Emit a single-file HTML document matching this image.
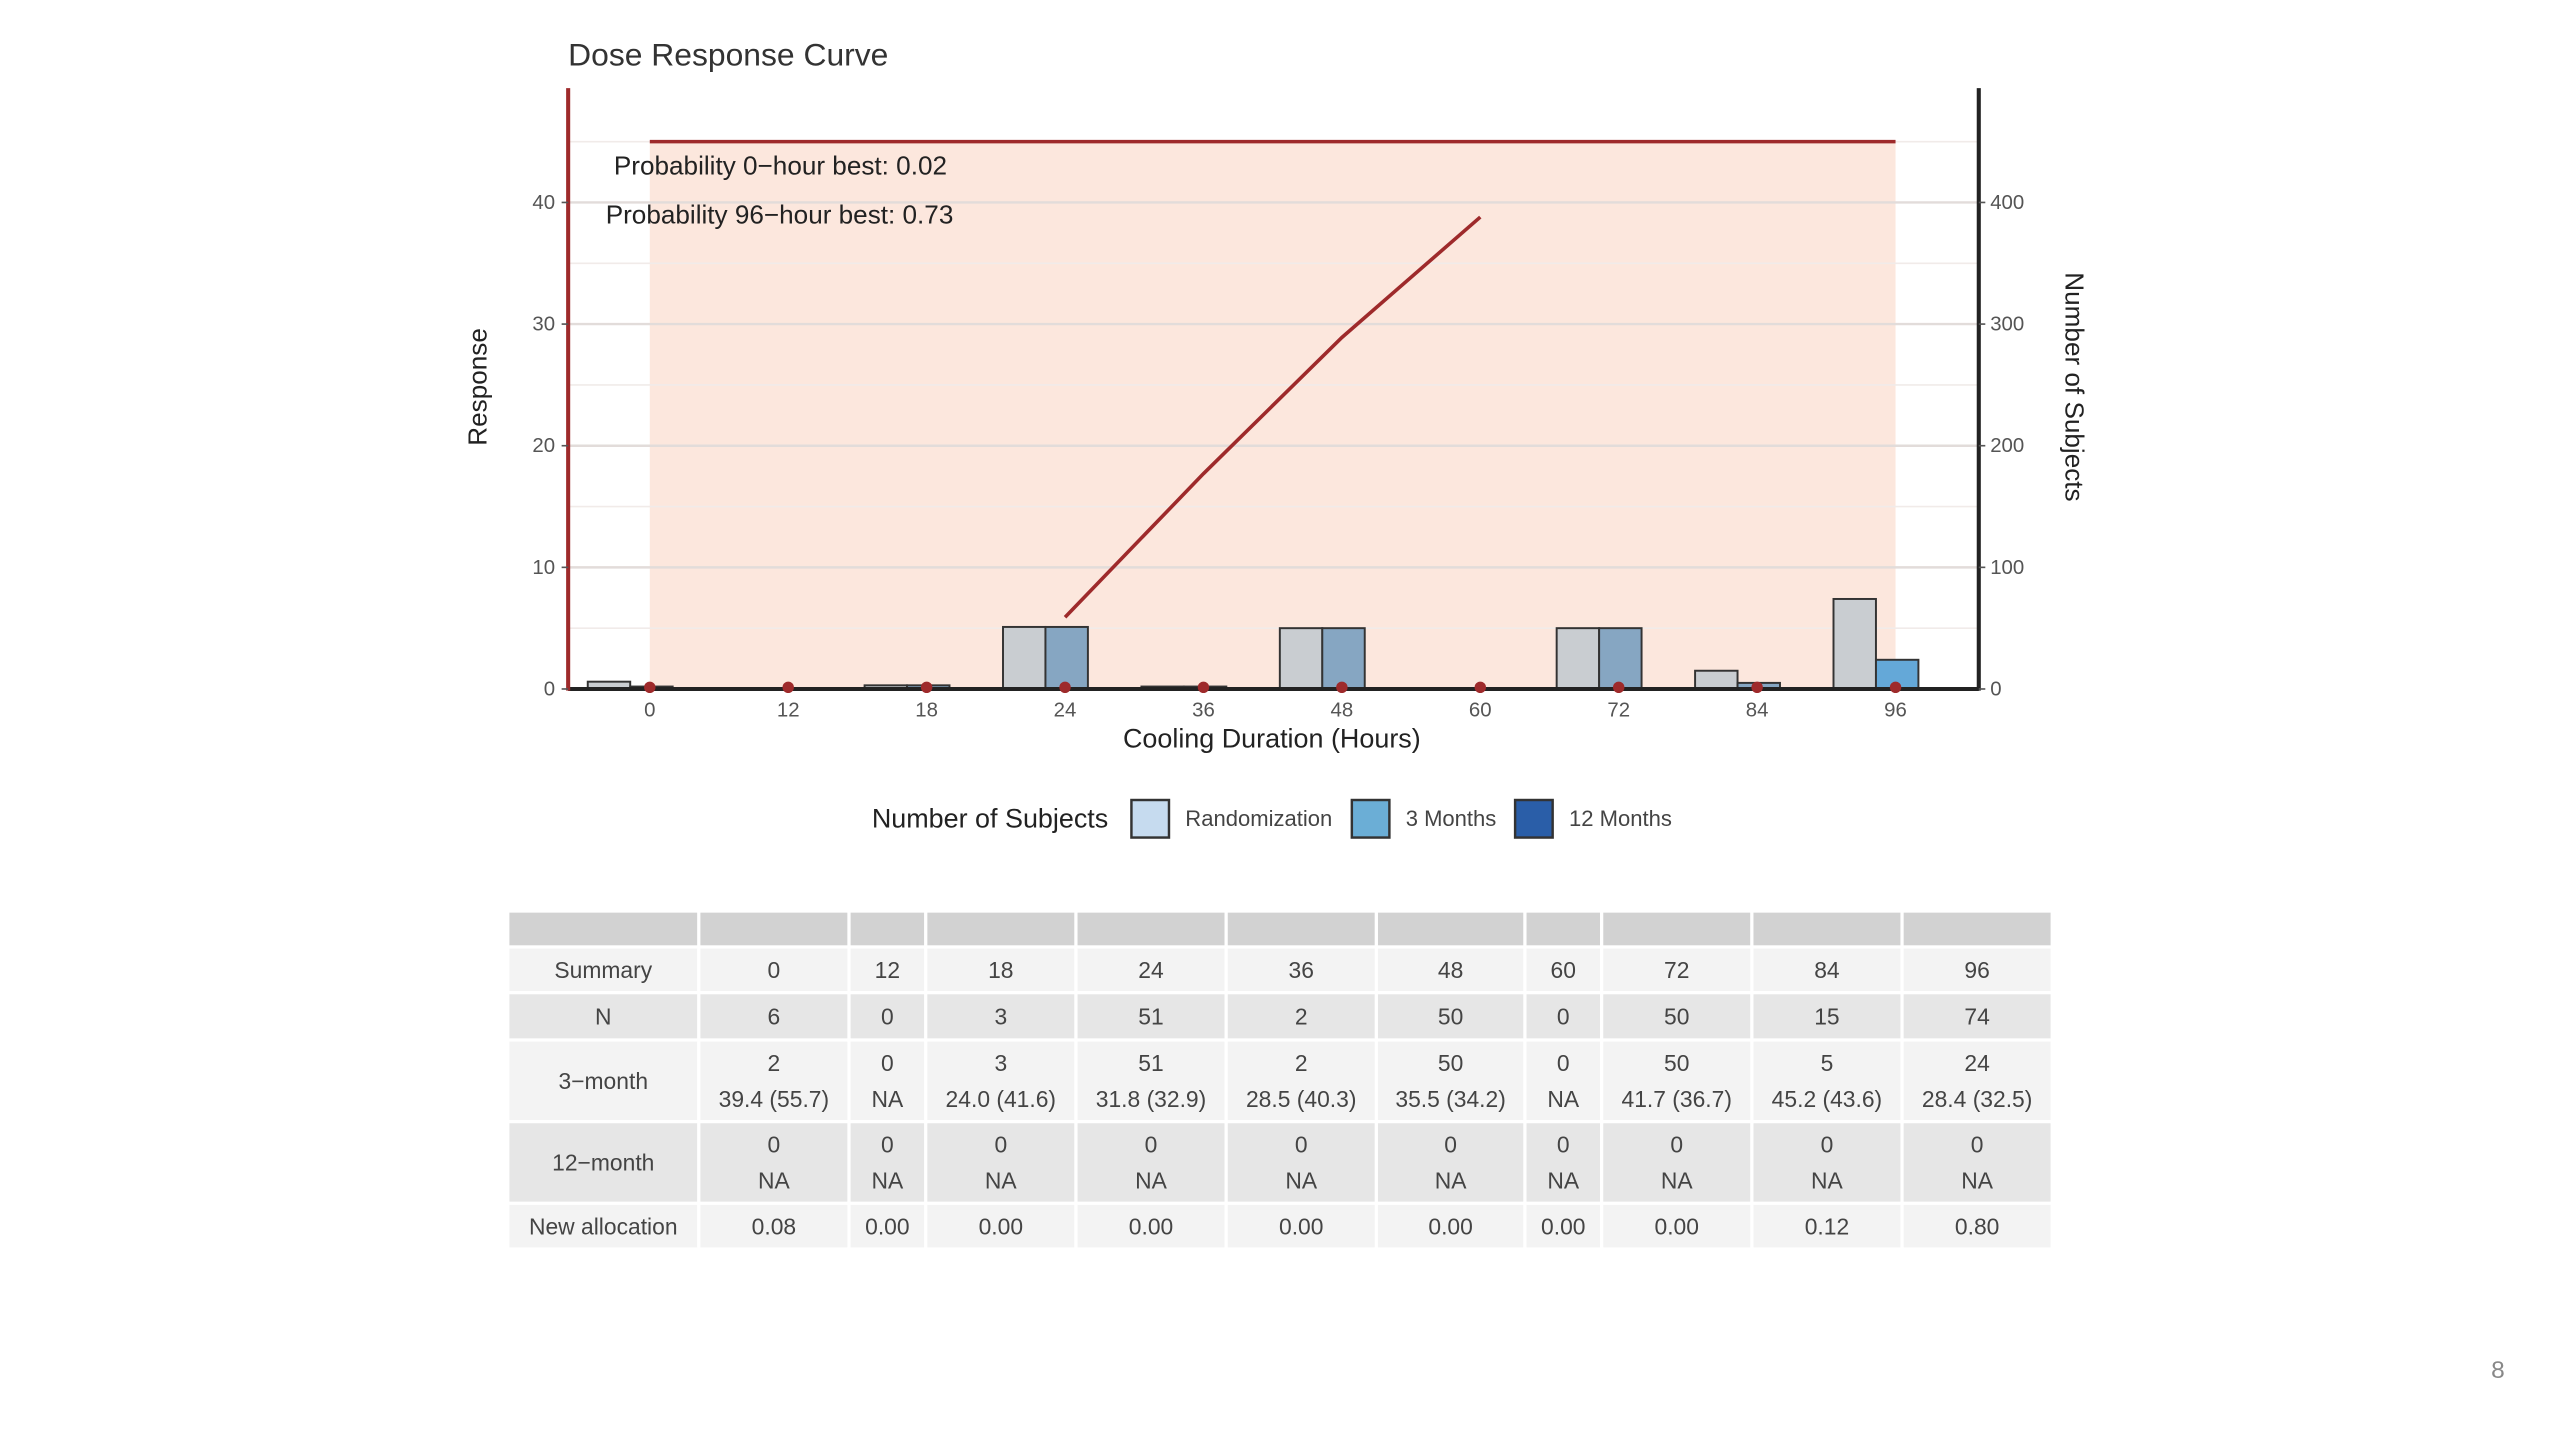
<!DOCTYPE html>
<html><head><meta charset="utf-8">
<style>
html,body{margin:0;padding:0;background:#fff;}
svg{display:block;font-family:"Liberation Sans",Arial,sans-serif;}
</style></head>
<body>
<svg id="root" width="2560" height="1440" viewBox="0 0 1568 882" xmlns="http://www.w3.org/2000/svg">
<g id="chart"></g>
<g id="table"></g>
<text x="1530" y="844" font-size="15" fill="#888" text-anchor="middle">8</text>
</svg>
<script>
const categories = ["0","12","18","24","36","48","60","72","84","96"];
const randomization = [6,0,3,51,2,50,0,50,15,74];
const threeMonth = [2,0,3,51,2,50,0,50,5,24];
const curveCats = ["24","36","48","60"];
const curveValues = [5.9,17.7,28.9,38.8];
const bandTop = 45;
const leftTicks = [0,10,20,30,40];
const rightTicks = [0,100,200,300,400];
const tableRows = [
 ["Summary","0","12","18","24","36","48","60","72","84","96"],
 ["N","6","0","3","51","2","50","0","50","15","74"],
 ["3\u2212month","2|39.4 (55.7)","0|NA","3|24.0 (41.6)","51|31.8 (32.9)","2|28.5 (40.3)","50|35.5 (34.2)","0|NA","50|41.7 (36.7)","5|45.2 (43.6)","24|28.4 (32.5)"],
 ["12\u2212month","0|NA","0|NA","0|NA","0|NA","0|NA","0|NA","0|NA","0|NA","0|NA","0|NA"],
 ["New allocation","0.08","0.00","0.00","0.00","0.00","0.00","0.00","0.00","0.12","0.80"]
];
const NS="http://www.w3.org/2000/svg";
function mk(parent,tag,attrs,text){const e=document.createElementNS(NS,tag);for(const k in attrs)e.setAttribute(k,attrs[k]);if(text!==undefined)e.textContent=text;parent.appendChild(e);return e;}
const chart=document.getElementById('chart');
const X0=398,STEP=84.78,Y0=422;
const xPos=c=>X0+categories.indexOf(c)*STEP;
const yL=v=>Y0-v*7.45;
const yR=v=>Y0-v*0.745;
let t=mk(chart,'text',{x:348,y:40,'font-size':19.5,fill:'#333'},'Dose Response Curve');


let band=mk(chart,'rect',{x:xPos("0"),y:yL(bandTop),width:xPos("96")-xPos("0"),height:Y0-yL(bandTop),fill:'#fce7dd'});


for(let v=5;v<=45;v+=5){const g=mk(chart,'line',{x1:349,x2:1211,y1:yL(v),y2:yL(v),stroke:v%10===0?'#e2dcda':'#f1ebe9','stroke-width':v%10===0?1.5:1});

}
let bl=mk(chart,'line',{x1:xPos("0"),x2:xPos("96"),y1:yL(bandTop),y2:yL(bandTop),stroke:'#9e2a2b','stroke-width':2.2});


const BW=26,OFF=12;
categories.forEach((c,i)=>{
 const cx=xPos(c)-OFF;
 const r=mk(chart,'rect',{x:cx-BW,y:yR(randomization[i]),width:BW,height:Math.max(Y0-yR(randomization[i]),0.5),fill:'#c9cdd1',stroke:'#333','stroke-width':1.2});
 
 
 const b=mk(chart,'rect',{x:cx,y:yR(threeMonth[i]),width:BW,height:Math.max(Y0-yR(threeMonth[i]),0.5),fill:c==="96"?'#64a8d8':'#86a6c2',stroke:'#333','stroke-width':1.2});
 
 
});
let base=mk(chart,'line',{x1:348,x2:1212,y1:Y0,y2:Y0,stroke:'#222','stroke-width':2.5});


let la=mk(chart,'line',{x1:348,x2:348,y1:54,y2:423,stroke:'#9e2a2b','stroke-width':2.5});


let ra=mk(chart,'line',{x1:1212,x2:1212,y1:54,y2:423,stroke:'#222','stroke-width':2.5});


categories.forEach(c=>{const p=mk(chart,'circle',{cx:xPos(c),cy:Y0-1,r:3.5,fill:'#9e2a2b'});

});
const pts=curveCats.map((c,i)=>xPos(c)+','+yL(curveValues[i])).join(' ');
let cl=mk(chart,'polyline',{points:pts,fill:'none',stroke:'#9e2a2b','stroke-width':2.2});


leftTicks.forEach(v=>{const tt=mk(chart,'text',{x:340,y:yL(v)+4,'font-size':12.5,fill:'#555','text-anchor':'end'},String(v));


mk(chart,'line',{x1:344,x2:348,y1:yL(v),y2:yL(v),stroke:'#555'});});
rightTicks.forEach(v=>{const tt=mk(chart,'text',{x:1219,y:yR(v)+4,'font-size':12.5,fill:'#555'},String(v));


mk(chart,'line',{x1:1212,x2:1216,y1:yR(v),y2:yR(v),stroke:'#555'});});
categories.forEach(c=>{const tt=mk(chart,'text',{x:xPos(c),y:439,'font-size':12.5,fill:'#555','text-anchor':'middle'},c);

});
let xt=mk(chart,'text',{x:779,y:458,'font-size':16.5,fill:'#222','text-anchor':'middle'},'Cooling Duration (Hours)');


let yt=mk(chart,'text',{x:0,y:0,'font-size':16,fill:'#222','text-anchor':'middle',transform:'translate(298,237) rotate(-90)'},'Response');


let yt2=mk(chart,'text',{x:0,y:0,'font-size':16,fill:'#222','text-anchor':'middle',transform:'translate(1265,237) rotate(90)'},'Number of Subjects');


let a1=mk(chart,'text',{x:376,y:107,'font-size':16,fill:'#222'},'Probability 0\u2212hour best: 0.02');


let a2=mk(chart,'text',{x:371,y:137,'font-size':16,fill:'#222'},'Probability 96\u2212hour best: 0.73');


let lt=mk(chart,'text',{x:534,y:507,'font-size':16.5,fill:'#222'},'Number of Subjects');


[[692,'#c6dbef','Randomization'],[827,'#6baed6','3 Months'],[927,'#2a5ea8','12 Months']].forEach(([x,col,lab])=>{
 const s=mk(chart,'rect',{x:x+1,y:490,width:23,height:23,fill:col,stroke:'#333','stroke-width':1.5});
 
 
 const l=mk(chart,'text',{x:x+34,y:506,'font-size':13.5,fill:'#444'},lab);
 
 
});
const tbl=document.getElementById('table');
const colX=[312,429,521,568,660,752,844,935,982,1074,1166,1258];
const rowY=[[559,579,'#d2d2d2'],[581,607,'#f3f3f3'],[609,636,'#e6e6e6'],[638,686,'#f3f3f3'],[688,736,'#e6e6e6'],[738,764,'#f3f3f3']];
rowY.forEach(([y1,y2,col],ri)=>{
 for(let ci=0;ci<11;ci++){
  const x1=colX[ci],x2=colX[ci+1]-2;
  const r=mk(tbl,'rect',{x:x1,y:y1,width:x2-x1,height:y2-y1,fill:col});
  
  
  if(ri===0)continue;
  const txt=tableRows[ri-1][ci];const cx=(x1+x2)/2;
  const parts=txt.split('|');
  if(parts.length===2){
   mk(tbl,'text',{x:cx,y:y1+18,'font-size':14,fill:'#444','text-anchor':'middle'},parts[0]);
   mk(tbl,'text',{x:cx,y:y1+40,'font-size':14,fill:'#444','text-anchor':'middle'},parts[1]);
  }else{
   mk(tbl,'text',{x:cx,y:(y1+y2)/2+5,'font-size':14,fill:'#444','text-anchor':'middle'},txt);
  }
 }
});
</script>
</body></html>
